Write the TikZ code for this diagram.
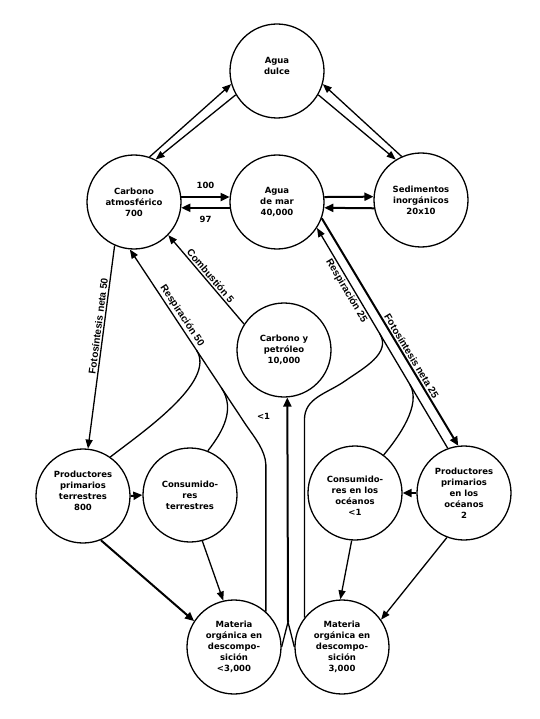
\documentclass[tikz,border=0pt]{standalone}
\usepackage{fontspec}
\setmainfont{DejaVu Sans}
\newfontfamily\flowfont{Liberation Sans}
\usetikzlibrary{arrows.meta,calc}

\tikzset{
  pool/.style={draw, circle, line width=1.3pt, minimum size=94pt, inner sep=0pt,
    align=center, font=\bfseries\fontsize{8.5}{11}\selectfont},
  flow/.style={line width=1.3pt, -{Triangle[length=9pt,width=7pt]}},
  bigflow/.style={line width=2pt, -{Triangle[length=9pt,width=8pt]}},
  branch/.style={line width=1.3pt},
  flowlabel/.style={sloped, inner sep=1.5pt, font=\flowfont\bfseries\fontsize{10}{12}\selectfont},
  amount/.style={font=\bfseries\fontsize{8.5}{11}\selectfont}
}

\begin{document}
\begin{tikzpicture}[x=1pt,y=-1pt]
\useasboundingbox (0,0) rectangle (539,719);

% Reservoirs: top and middle rows
\node[pool] (dulce) at (277,71) {Agua\\dulce\\\mbox{}};
\node[pool] (carb) at (134,202) {Carbono\\atmosférico\\700};
\node[pool] (mar) at (277,202) {Agua\\de mar\\40,000};
\node[pool] (sed) at (421,200) {Sedimentos\\inorgánicos\\20x10};
\node[pool] (pet) at (284,350) {Carbono y\\petróleo\\10,000};

% Living and dead matter (bottom rows)
\node[pool] (prodT) at (83,496) {Productores\\primarios\\terrestres\\800\\\mbox{}};
\node[pool] (consT) at (190,495) {Consumido-\\res\\terrestres};
\node[pool] (consO) at (355,493) {\mbox{}\\Consumido-\\res en los\\océanos\\<1};
\node[pool] (prodO) at (464,493) {Productores\\primarios\\en los\\océanos\\2};
\node[pool] (matL) at (234,647) {Materia\\orgánica en\\descompo-\\sición\\<3,000};
\node[pool] (matR) at (342,647) {Materia\\orgánica en\\descompo-\\sición\\3,000};

% Fresh water exchanges
\draw[flow] (carb.71) -- (dulce.196);
\draw[flow] (dulce.210) -- (carb.63);
\draw[flow] (sed.114) -- (dulce.344);
\draw[flow] (dulce.330) -- (sed.122);

% Sea exchanges
\draw[bigflow] (carb.6) -- node[amount, above=4pt] {100} (mar.174);
\draw[bigflow] (mar.187) -- node[amount, below=4pt] {97} (carb.-7);
\draw[bigflow] (mar.6) -- (sed.176);
\draw[bigflow] (sed.190) -- (mar.-7);

% Land side
\draw[flow] (pet.147) -- node[flowlabel, above] {Combustión 5} (carb.316);
\draw[flow] (carb.246) -- node[flowlabel, above, pos=.4] {Fotosíntesis neta 50} (prodT.84);

\coordinate (r50bend) at (246,425);
\draw[flow] (matL.48) -- ++(0,-147) .. controls (265,450) and (255,438) .. (r50bend)
  -- node[flowlabel, above, pos=.6] {Respiración 50} (carb.265);
\coordinate (r50a) at ($(carb.265)!.574!(r50bend)$);
\coordinate (r50b) at ($(carb.265)!.79!(r50bend)$);
\draw[branch] (prodT.55) to[out=38, in=-57, looseness=.7] (r50a);
\draw[branch] (consT.68) to[out=52, in=-57] (r50b);

% Ocean side
\draw[flow] (prodO.110) -- node[flowlabel, below, pos=.73] {Respiración 25} (mar.-33);
\draw[bigflow] (mar.-20) -- node[flowlabel, above, pos=.62] {Fotosíntesis neta 25} (prodO.97);

\coordinate (r25a) at ($(mar.-33)!.48!(prodO.110)$);
\coordinate (r25b) at ($(mar.-33)!.71!(prodO.110)$);
\coordinate (r25mid) at (345,381);
\draw[branch] (matR.142) -- ++(0,-198) to[out=90, in=-145] (r25mid) to[out=35, in=-59] (r25a);
\draw[branch] (consO.53) to[out=50, in=-59, looseness=.8] (r25b);

% Food chains and decay
\draw[bigflow] (prodT.east) -- (consT.west);
\draw[bigflow] (prodO.west) -- (consO.east);
\draw[bigflow] (prodT.-68) -- (matL.147);
\draw[flow] (consT.-75) -- (matL.103);
\draw[flow] (consO.-94) -- (matR.92);
\draw[flow] (prodO.-111) -- (matR.35);

% Burial into fossil carbon
\coordinate (peak) at ($(matL.east)!.5!(matR.west)+(0,-25)$);
\draw[branch] (matL.east) -- (peak) -- (matR.west);
\draw[bigflow] (peak) -- node[amount, pos=.915, left=13pt] {<1} (pet.-86);

\end{tikzpicture}
\end{document}
